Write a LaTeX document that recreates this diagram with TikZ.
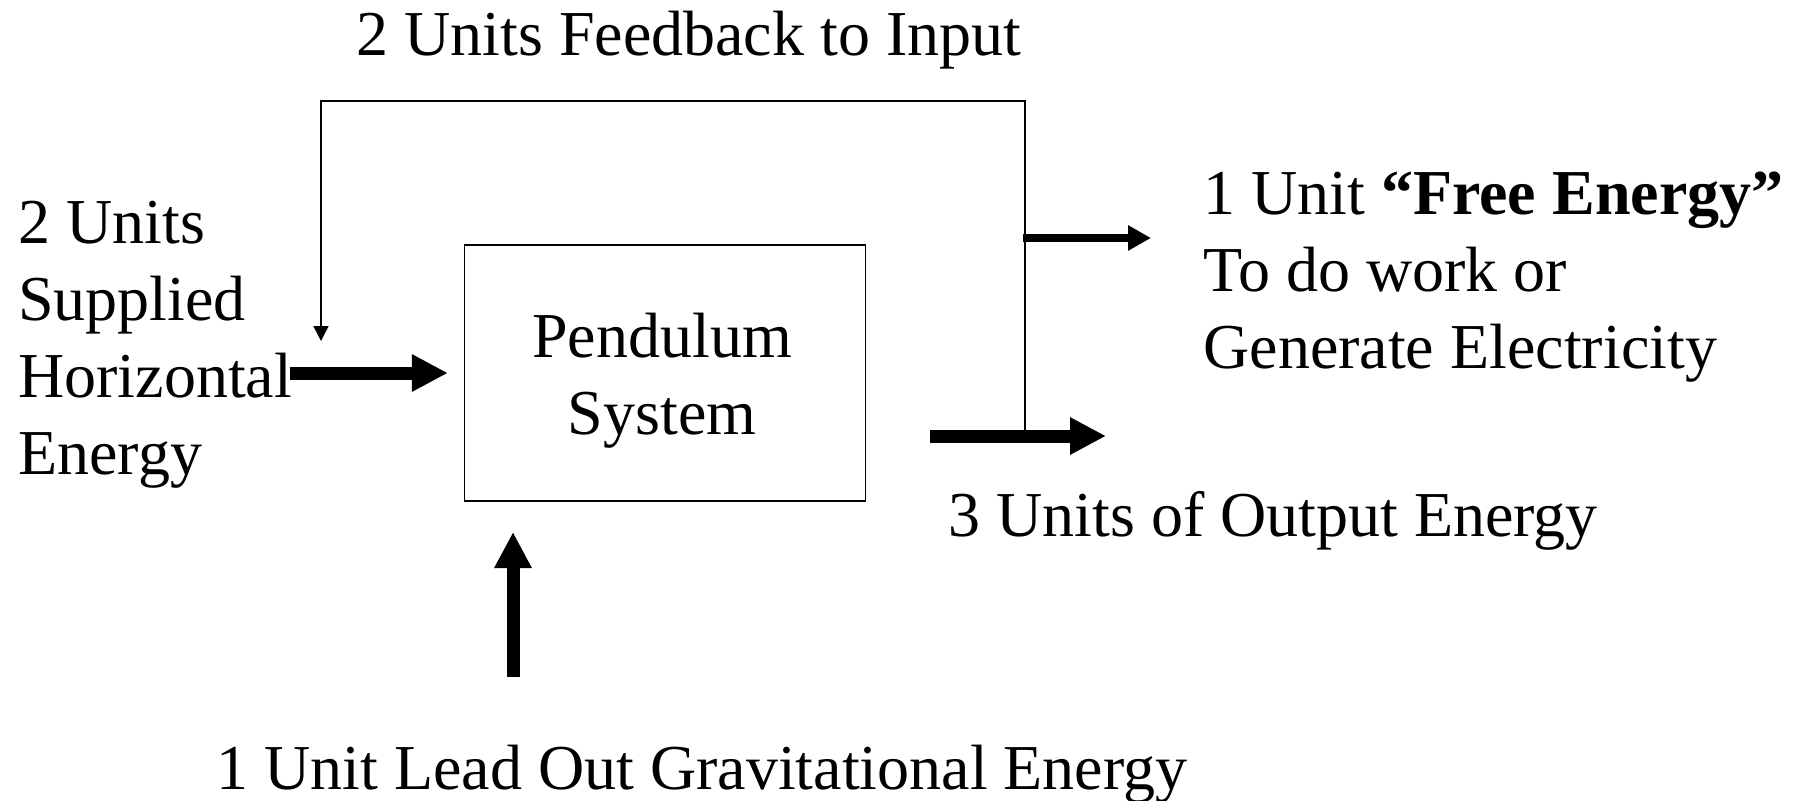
\documentclass[tikz,border=0pt]{standalone}
\usepackage{fontspec}
\setmainfont{Liberation Serif}
\usetikzlibrary{arrows.meta}
\tikzset{
  txt/.style={inner sep=0pt,font=\fontsize{32}{38.5}\selectfont,align=left,anchor=base west},
  sysbox/.style={draw,line width=0.6pt,minimum width=200.5pt,minimum height=128pt,inner sep=0pt},
  bigarrow/.style={line width=6.5pt,-{Triangle[length=18pt,width=17.5pt]}},
  freearrow/.style={line width=4pt,-{Triangle[length=11.5pt,width=12pt]}},
  feedline/.style={line width=0.75pt,-{Triangle[length=7.5pt,width=7.5pt]}}
}
\begin{document}
\begin{tikzpicture}[x=0.5pt,y=-0.5pt]
                \useasboundingbox (0,0) rectangle (1800,800);
                \node [sysbox] (pend) at (665,373) {};
                \node [txt,align=center,anchor=base] (pendtxt) at (662,434) {Pendulum\\System};
                \node [txt] (feedtxt) at (356,55) {2 Units Feedback to Input};
                \node [txt] (supplied) at (18,474) {2 Units\\Supplied\\Horizontal\\Energy};
                \node [txt] (freetxt) at (1203,368) {1 Unit \textbf{“Free Energy”}\\To do work or\\Generate Electricity};
                \node [txt] (outtxt) at (948,536) {3 Units of Output Energy};
                \node [txt] (gravtxt) at (216,789) {1 Unit Lead Out Gravitational Energy};
                \coordinate (inbeg) at (290,373);
                \coordinate (outbeg) at (930,436);
                \coordinate (outend) at (1106,436);
                \coordinate (fbbeg) at (1025,436);
                \coordinate (fbcorner) at (321,101);
                \coordinate (fbend) at (321,341);
                \coordinate (freebeg) at (1023,238);
                \coordinate (freeend) at (1151,238);
                \coordinate (gravbeg) at (513,677);
                \coordinate (gravend) at (513,532);
                \draw [bigarrow] (inbeg) -- ([xshift=-8pt]pend.west);
                \draw [bigarrow] (outbeg) -- (outend);
                \draw [bigarrow] (gravbeg) -- (gravend);
                \draw [feedline] (fbbeg) |- (fbcorner) -- (fbend);
                \draw [freearrow] (freebeg) -- (freeend);
            \end{tikzpicture}
\end{document}
